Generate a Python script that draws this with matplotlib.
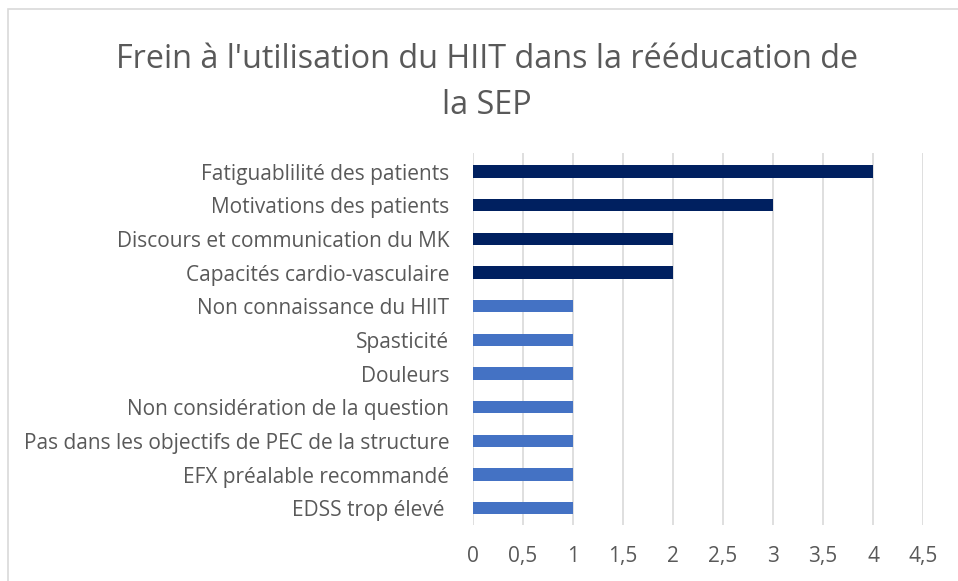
import numpy as np
import matplotlib.pyplot as plt
from matplotlib.patches import Rectangle

plt.rcParams['font.family'] = ['Open Sans', 'DejaVu Sans']

categories = ['Fatiguablilité des patients', 'Motivations des patients',
              'Discours et communication du MK', 'Capacités cardio-vasculaire',
              'Non connaissance du HIIT', 'Spasticité', 'Douleurs',
              'Non considération de la question',
              'Pas dans les objectifs de PEC de la structure',
              'EFX préalable recommandé', 'EDSS trop élevé ']
values = [4, 3, 2, 2, 1, 1, 1, 1, 1, 1, 1]
dark = '#002060'
light = '#4472C4'
colors = [dark] * 4 + [light] * 7
ticks = np.arange(0, 5, 0.5)
tick_labels = ['0', '0,5', '1', '1,5', '2', '2,5', '3', '3,5', '4', '4,5']

fig = plt.figure(figsize=(9.58, 5.81), dpi=100)
fig.patches.append(Rectangle((8/958, -0.1), 1.2, 1 - 9/581 + 0.1, transform=fig.transFigure,
                             fill=False, edgecolor='#d9d9d9', lw=1.2))
ax = fig.add_axes([473/958, 56/581, 450/958, 372/581])

y = np.arange(len(categories))
ax.barh(y, values, height=0.36, color=colors, zorder=3)
ax.set_ylim(len(categories) - 0.5, -0.55)
ax.set_xlim(0, 4.5)
ax.set_xticks(ticks)
ax.set_xticklabels(tick_labels)
ax.set_yticks(y)
ax.set_yticklabels(categories)
ax.grid(axis='x', color='#d9d9d9', lw=1.2, zorder=0)
for s in ax.spines.values():
    s.set_visible(False)
ax.tick_params(axis='both', length=0, labelsize=15, labelcolor='#595959')
ax.tick_params(axis='x', pad=15)
ax.tick_params(axis='y', pad=17)

fig.text(487/958, 1 - 59/581, "Frein à l'utilisation du HIIT dans la rééducation de",
         ha='center', va='center', fontsize=23.3, color='#595959')
fig.text(487/958, 1 - 105/581, "la SEP", ha='center', va='center', fontsize=23.3, color='#595959')

fig.savefig('out.png', dpi=100)
